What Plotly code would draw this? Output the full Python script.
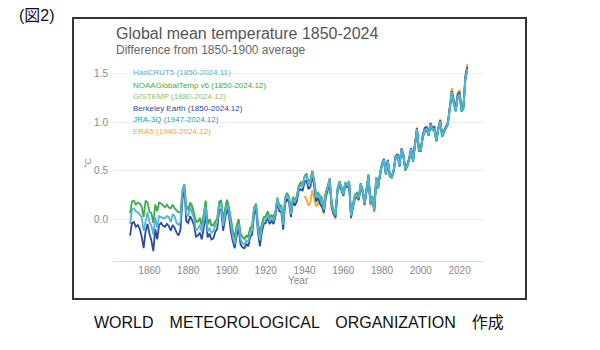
import plotly.graph_objects as go

# ---------------- data (annual anomalies, °C vs 1850-1900) ----------------
hadcrut5_start = 1850
hadcrut5 = [
    -0.05, 0.10, 0.11, 0.08, 0.07, 0.05, 0.02, -0.12, -0.02, 0.07,
    -0.03, -0.07, -0.16, 0.02, -0.09, 0.03, 0.02, 0.01, 0.01, 0.03,
    0.02, -0.03, 0.05, 0.03, -0.04, -0.06, -0.03, 0.26, 0.36, 0.05,
    0.03, 0.12, 0.06, 0.01, -0.12, -0.10, -0.06, -0.13, -0.02, 0.13,
    -0.13, -0.09, -0.14, -0.12, -0.07, -0.04, 0.15, 0.15, -0.07, 0.06,
    0.15, 0.08, -0.08, -0.18, -0.26, -0.12, -0.05, -0.21, -0.25, -0.26,
    -0.22, -0.24, -0.13, -0.12, 0.10, 0.14, -0.10, -0.22, -0.08, -0.02,
    -0.01, 0.05, -0.02, 0.01, -0.02, 0.06, 0.21, 0.11, 0.12, -0.06,
    0.20, 0.25, 0.20, 0.05, 0.21, 0.17, 0.22, 0.32, 0.35, 0.33,
    0.43, 0.45, 0.36, 0.37, 0.49, 0.38, 0.22, 0.26, 0.21, 0.20,
    0.10, 0.27, 0.33, 0.41, 0.15, 0.08, 0.04, 0.30, 0.38, 0.33,
    0.26, 0.36, 0.35, 0.38, 0.04, 0.14, 0.24, 0.25, 0.22, 0.36,
    0.29, 0.16, 0.30, 0.45, 0.17, 0.23, 0.10, 0.42, 0.33, 0.48,
    0.57, 0.61, 0.47, 0.60, 0.45, 0.44, 0.50, 0.64, 0.66, 0.55,
    0.72, 0.66, 0.52, 0.55, 0.62, 0.72, 0.60, 0.78, 0.93, 0.72,
    0.71, 0.85, 0.92, 0.93, 0.87, 0.98, 0.93, 0.93, 0.81, 0.93,
    1.01, 0.86, 0.90, 0.94, 0.99, 1.15, 1.31, 1.20, 1.12, 1.26,
    1.29, 1.12, 1.15, 1.45, 1.55,
]

noaa_start = 1850
noaa = [
    0.06, 0.18, 0.19, 0.15, 0.17, 0.16, 0.13, 0.02, 0.19, 0.17,
    0.08, 0.06, -0.04, 0.15, 0.08, 0.17, 0.16, 0.14, 0.12, 0.15,
    0.12, 0.11, 0.15, 0.11, 0.09, 0.07, 0.07, 0.30, 0.36, 0.14,
    0.10, 0.17, 0.14, 0.06, -0.02, -0.02, 0.01, -0.06, 0.04, 0.19,
    -0.05, 0.00, -0.06, -0.06, -0.02, 0.01, 0.18, 0.19, 0.00, 0.10,
    0.20, 0.12, -0.02, -0.12, -0.19, -0.07, 0.00, -0.15, -0.18, -0.20,
    -0.17, -0.18, -0.09, -0.07, 0.12, 0.16, -0.05, -0.15, -0.05, 0.02,
    0.03, 0.08, 0.02, 0.04, 0.02, 0.08, 0.22, 0.14, 0.14, -0.02,
    0.22, 0.27, 0.23, 0.08, 0.23, 0.19, 0.24, 0.34, 0.38, 0.36,
    0.44, 0.47, 0.39, 0.40, 0.50, 0.40, 0.25, 0.27, 0.24, 0.22,
    0.13, 0.28, 0.34, 0.42, 0.17, 0.10, 0.06, 0.31, 0.39, 0.34,
    0.28, 0.37, 0.36, 0.39, 0.07, 0.16, 0.25, 0.27, 0.23, 0.37,
    0.30, 0.18, 0.31, 0.46, 0.19, 0.24, 0.12, 0.43, 0.35, 0.47,
    0.56, 0.60, 0.46, 0.60, 0.44, 0.43, 0.49, 0.63, 0.66, 0.54,
    0.71, 0.65, 0.50, 0.54, 0.61, 0.71, 0.59, 0.77, 0.92, 0.70,
    0.70, 0.84, 0.90, 0.92, 0.86, 0.96, 0.92, 0.91, 0.80, 0.92,
    1.00, 0.85, 0.89, 0.93, 0.98, 1.14, 1.29, 1.19, 1.11, 1.25,
    1.27, 1.11, 1.14, 1.44, 1.53,
]

gistemp_start = 1880
gistemp = [
    0.08, 0.15, 0.12, 0.05, -0.03, -0.03, 0.00, -0.07, 0.03, 0.17,
    -0.06, -0.01, -0.07, -0.07, -0.03, 0.00, 0.17, 0.18, -0.01, 0.09,
    0.19, 0.11, -0.03, -0.13, -0.20, -0.08, -0.01, -0.16, -0.19, -0.21,
    -0.18, -0.19, -0.10, -0.08, 0.11, 0.15, -0.06, -0.16, -0.06, 0.01,
    0.02, 0.07, 0.01, 0.03, 0.01, 0.07, 0.21, 0.13, 0.13, -0.03,
    0.21, 0.26, 0.22, 0.07, 0.22, 0.18, 0.23, 0.33, 0.37, 0.35,
    0.43, 0.46, 0.38, 0.39, 0.49, 0.39, 0.24, 0.27, 0.23, 0.21,
    0.12, 0.28, 0.33, 0.42, 0.16, 0.09, 0.05, 0.31, 0.39, 0.34,
    0.27, 0.37, 0.36, 0.38, 0.06, 0.15, 0.25, 0.26, 0.23, 0.37,
    0.30, 0.17, 0.31, 0.46, 0.18, 0.24, 0.11, 0.43, 0.34, 0.48,
    0.57, 0.62, 0.46, 0.61, 0.45, 0.43, 0.50, 0.64, 0.67, 0.55,
    0.72, 0.66, 0.51, 0.54, 0.62, 0.72, 0.60, 0.78, 0.93, 0.71,
    0.71, 0.85, 0.92, 0.93, 0.87, 0.98, 0.93, 0.93, 0.81, 0.93,
    1.02, 0.86, 0.90, 0.94, 1.00, 1.16, 1.31, 1.21, 1.13, 1.27,
    1.30, 1.13, 1.16, 1.46, 1.56,
]

berkeley_start = 1850
berkeley = [
    -0.17, -0.04, -0.03, -0.08, -0.06, -0.10, -0.18, -0.30, -0.13, -0.05,
    -0.15, -0.22, -0.33, -0.10, -0.21, -0.06, -0.04, -0.07, -0.08, -0.05,
    -0.07, -0.12, -0.06, -0.09, -0.14, -0.17, -0.11, 0.19, 0.33, -0.02,
    -0.04, 0.03, -0.01, -0.06, -0.18, -0.17, -0.14, -0.21, -0.09, 0.06,
    -0.19, -0.15, -0.21, -0.20, -0.13, -0.10, 0.09, 0.10, -0.12, 0.01,
    0.11, 0.04, -0.13, -0.23, -0.30, -0.17, -0.10, -0.26, -0.29, -0.30,
    -0.26, -0.28, -0.18, -0.16, 0.05, 0.10, -0.14, -0.28, -0.13, -0.05,
    -0.04, 0.02, -0.05, -0.02, -0.05, 0.03, 0.17, 0.08, 0.08, -0.11,
    0.16, 0.21, 0.17, 0.02, 0.18, 0.14, 0.18, 0.29, 0.31, 0.29,
    0.38, 0.40, 0.31, 0.33, 0.45, 0.34, 0.18, 0.22, 0.16, 0.13,
    0.07, 0.24, 0.30, 0.38, 0.12, 0.05, 0.02, 0.28, 0.36, 0.31,
    0.24, 0.34, 0.33, 0.36, 0.01, 0.12, 0.22, 0.23, 0.20, 0.35,
    0.28, 0.15, 0.29, 0.44, 0.16, 0.22, 0.09, 0.41, 0.33, 0.48,
    0.57, 0.62, 0.47, 0.61, 0.45, 0.44, 0.51, 0.65, 0.67, 0.56,
    0.73, 0.67, 0.52, 0.56, 0.63, 0.73, 0.61, 0.79, 0.94, 0.73,
    0.72, 0.87, 0.94, 0.95, 0.88, 0.99, 0.94, 0.95, 0.82, 0.94,
    1.02, 0.87, 0.91, 0.95, 1.00, 1.16, 1.32, 1.22, 1.13, 1.28,
    1.31, 1.13, 1.16, 1.47, 1.57,
]

jra3q_start = 1947
jra3q = [
    0.25, 0.20, 0.18,
    0.09, 0.26, 0.32, 0.40, 0.14, 0.07, 0.03, 0.29, 0.37, 0.32,
    0.25, 0.35, 0.34, 0.37, 0.03, 0.13, 0.23, 0.24, 0.21, 0.35,
    0.28, 0.15, 0.29, 0.44, 0.16, 0.22, 0.09, 0.41, 0.32, 0.47,
    0.56, 0.60, 0.46, 0.59, 0.44, 0.43, 0.49, 0.63, 0.65, 0.54,
    0.71, 0.65, 0.51, 0.54, 0.61, 0.71, 0.59, 0.77, 0.92, 0.71,
    0.70, 0.84, 0.91, 0.92, 0.86, 0.97, 0.92, 0.92, 0.80, 0.92,
    1.00, 0.85, 0.89, 0.93, 0.98, 1.14, 1.30, 1.19, 1.11, 1.25,
    1.28, 1.11, 1.14, 1.44, 1.55,
]

era5_start = 1940
era5 = [
    0.24, 0.20, 0.14, 0.17, 0.30, 0.22, 0.13, 0.17, 0.14, 0.12,
    0.05, 0.22, 0.28, 0.37, 0.11, 0.05, 0.00, 0.27, 0.35, 0.30,
    0.24, 0.34, 0.33, 0.36, 0.03, 0.12, 0.21, 0.22, 0.19, 0.33,
    0.26, 0.14, 0.27, 0.42, 0.14, 0.18, 0.07, 0.40, 0.31, 0.47,
    0.56, 0.61, 0.46, 0.60, 0.44, 0.43, 0.49, 0.64, 0.66, 0.55,
    0.72, 0.66, 0.51, 0.55, 0.62, 0.72, 0.60, 0.79, 0.94, 0.72,
    0.71, 0.86, 0.93, 0.94, 0.87, 0.99, 0.94, 0.94, 0.82, 0.94,
    1.03, 0.87, 0.91, 0.95, 1.00, 1.17, 1.35, 1.24, 1.15, 1.30,
    1.33, 1.15, 1.19, 1.48, 1.60,
]

legend_labels = [
    "HadCRUT5 (1850-2024.11)",
    "NOAAGlobalTemp v6 (1850-2024.12)",
    "GISTEMP (1880-2024.12)",
    "Berkeley Earth (1850-2024.12)",
    "JRA-3Q (1947-2024.12)",
    "ERA5 (1940-2024.12)",
]

x_ticks = [1860, 1880, 1900, 1920, 1940, 1960, 1980, 2000, 2020]
y_ticks = [0.0, 0.5, 1.0, 1.5]
y_ticktext = ["0.0", "0.5", "1.0", "1.5"]

# ---------------- styling ----------------
colors = {
    "HadCRUT5": "#52b3dc",
    "NOAA": "#3dab4c",
    "GISTEMP": "#8dc454",
    "Berkeley": "#2d4b9c",
    "JRA": "#2a9fa3",
    "ERA5": "#f4a733",
}
legend_colors = [colors["HadCRUT5"], colors["NOAA"], colors["GISTEMP"],
                 colors["Berkeley"], colors["JRA"], colors["ERA5"]]

FONT = "Liberation Sans, Arial, sans-serif"

# plot area in pixels (page 600x350)
L, R, T, B = 113, 484, 59, 261
W, H = 600, 350


def px(x):
    return (x - L) / (R - L)


def py(y):
    return (B - y) / (B - T)


def years(start, vals):
    return list(range(start, start + len(vals)))


fig = go.Figure()
series = [
    ("ERA5", era5_start, era5, colors["ERA5"]),
    ("GISTEMP", gistemp_start, gistemp, colors["GISTEMP"]),
    ("NOAAGlobalTemp v6", noaa_start, noaa, colors["NOAA"]),
    ("Berkeley Earth", berkeley_start, berkeley, colors["Berkeley"]),
    ("JRA-3Q", jra3q_start, jra3q, colors["JRA"]),
    ("HadCRUT5", hadcrut5_start, hadcrut5, colors["HadCRUT5"]),
]
for name, start, vals, col in series:
    fig.add_trace(go.Scatter(
        x=years(start, vals), y=vals, mode="lines", name=name,
        line=dict(color=col, width=1.8), hoverinfo="skip",
    ))

annotations = []
# title & subtitle
annotations.append(dict(text="Global mean temperature 1850-2024", xref="paper", yref="paper",
                        x=px(114), y=py(34), xanchor="left", yanchor="middle", showarrow=False,
                        font=dict(family=FONT, size=16, color="#555555")))
annotations.append(dict(text="Difference from 1850-1900 average", xref="paper", yref="paper",
                        x=px(114), y=py(50), xanchor="left", yanchor="middle", showarrow=False,
                        font=dict(family=FONT, size=12, color="#666666")))
# legend labels
leg_y = [73, 85, 96.5, 108, 119.5, 131]
for lab, col, yy in zip(legend_labels, legend_colors, leg_y):
    annotations.append(dict(text=lab, xref="paper", yref="paper", x=px(131), y=py(yy),
                            xanchor="left", yanchor="middle", showarrow=False,
                            font=dict(family=FONT, size=8, color=col)))
# axis titles
annotations.append(dict(text="°C", xref="paper", yref="paper", x=px(88), y=py(163),
                        xanchor="center", yanchor="middle", showarrow=False, textangle=-90,
                        font=dict(family=FONT, size=9, color="#888888")))
annotations.append(dict(text="Year", xref="paper", yref="paper", x=0.5, y=py(280),
                        xanchor="center", yanchor="middle", showarrow=False,
                        font=dict(family=FONT, size=10, color="#888888")))
# figure label and caption
annotations.append(dict(text="(図2)", xref="paper", yref="paper", x=px(17), y=py(15),
                        xanchor="left", yanchor="middle", showarrow=False,
                        font=dict(family="Liberation Sans, Noto Sans CJK JP", size=16, color="#111111")))
annotations.append(dict(text="WORLD\u3000METEOROLOGICAL\u3000ORGANIZATION\u3000作成",
                        xref="paper", yref="paper", x=px(299), y=py(322),
                        xanchor="center", yanchor="middle", showarrow=False,
                        font=dict(family="Liberation Sans, Noto Sans CJK JP", size=16, color="#111111")))

shapes = [dict(type="rect", xref="paper", yref="paper",
               x0=px(73), x1=px(526), y0=py(299), y1=py(18),
               line=dict(color="#333333", width=2), fillcolor="rgba(0,0,0,0)", layer="below")]

fig.update_layout(
    width=W, height=H,
    margin=dict(l=L, r=W - R, t=T, b=H - B, pad=0),
    paper_bgcolor="white", plot_bgcolor="white",
    showlegend=False, hovermode=False,
    annotations=annotations, shapes=shapes,
    xaxis=dict(range=[1841.2, 2032.6], tickvals=x_ticks, showgrid=False, zeroline=False,
               showline=True, linecolor="#dddddd", linewidth=1,
               ticks="", ticklabelstandoff=0,
               tickfont=dict(family=FONT, size=10, color="#888888")),
    yaxis=dict(range=[-0.432, 1.65], tickvals=y_ticks, ticktext=y_ticktext,
               showgrid=True, gridcolor="#eeeeee", gridwidth=1, zeroline=False,
               showline=False, ticks="", ticklabelstandoff=4,
               tickfont=dict(family=FONT, size=10, color="#888888")),
)

fig.write_html("out.html")
